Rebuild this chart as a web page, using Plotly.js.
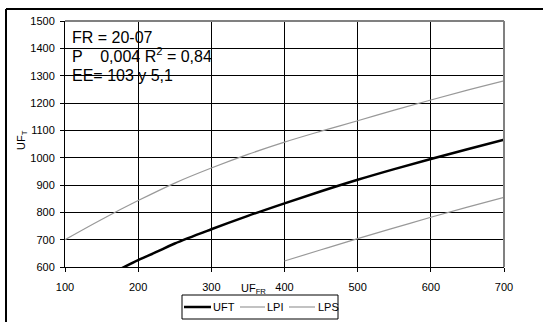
<!DOCTYPE html>
<html><head><meta charset="utf-8">
<script src="https://cdn.plot.ly/plotly-3.0.1.min.js"></script>
<style>
html,body{margin:0;padding:0;background:#fff;overflow:hidden;}
#chart{position:absolute;left:0;top:0;width:543px;height:322px;}
</style></head>
<body>
<div id="chart"></div>
<script>
// UFT (ajuste)
const uftX = [175, 200, 225, 250, 300, 350, 400, 450, 500, 550, 600, 650, 700];
const uftY = [592, 625, 655, 686, 738, 787, 833, 877, 919, 958, 995, 1031, 1066];
// LPS (límite superior)
const lpsX = [100, 150, 200, 250, 300, 350, 400, 450, 500, 550, 600, 650, 700];
const lpsY = [700, 774, 843, 907, 962, 1012, 1057, 1097, 1135, 1174, 1211, 1247, 1281];
// LPI (límite inferior)
const lpiX = [400, 450, 500, 550, 600, 650, 700];
const lpiY = [622, 663, 704, 743, 782, 819, 855];

const seriesNames = ['UFT', 'LPI', 'LPS'];
const seriesColors = ['#000', '#999', '#999'];
const seriesWidths = [2.5, 1.2, 1.2];

const xTicks = [100, 200, 300, 400, 500, 600, 700];
const yTicks = [600, 700, 800, 900, 1000, 1100, 1200, 1300, 1400, 1500];

const textLines = ['FR = 20-07', 'P    0,004 R<sup>2</sup> = 0,84', 'EE= 103 y 5,1'];

const W = 543, H = 322, ML = 65, MR = 39, MT = 21, MB = 55;
const PW = W - ML - MR, PH = H - MT - MB;
const px2x = p => (p - ML) / PW;
const py2y = p => (H - MB - p) / PH;

const xs = [uftX, lpiX, lpsX], ys = [uftY, lpiY, lpsY];
const traces = seriesNames.map((n, i) => ({
  x: xs[i], y: ys[i], name: n, mode: 'lines', showlegend: false,
  line: {color: seriesColors[i], width: seriesWidths[i], shape: 'spline'}
}));

const shapes = [
  // plot area border (right & top, grey)
  {type: 'line', xref: 'paper', yref: 'paper', x0: 1, x1: 1, y0: 0, y1: 1, line: {color: '#808080', width: 2}},
  {type: 'line', xref: 'paper', yref: 'paper', x0: 0, x1: 1, y0: 1, y1: 1, line: {color: '#808080', width: 2}},
  // outer chart frame
  {type: 'line', xref: 'paper', yref: 'paper', x0: px2x(6), x1: px2x(560), y0: py2y(9), y1: py2y(9), line: {color: '#000', width: 2}},
  {type: 'line', xref: 'paper', yref: 'paper', x0: px2x(6), x1: px2x(6), y0: py2y(9), y1: py2y(340), line: {color: '#000', width: 2}},
  // legend box
  {type: 'rect', xref: 'paper', yref: 'paper', x0: px2x(182), x1: px2x(338), y0: py2y(295), y1: py2y(319),
   line: {color: '#000', width: 1}, fillcolor: '#fff'}
];
const annotations = [];
// legend entries
const legLineX = [[184, 211], [240, 265], [289, 315]];
const legTextX = [213, 267, 318];
seriesNames.forEach((n, i) => {
  shapes.push({type: 'line', xref: 'paper', yref: 'paper', x0: px2x(legLineX[i][0]), x1: px2x(legLineX[i][1]),
    y0: py2y(307), y1: py2y(307), line: {color: seriesColors[i], width: seriesWidths[i]}});
  annotations.push({xref: 'paper', yref: 'paper', x: px2x(legTextX[i]), y: py2y(307), xanchor: 'left', yanchor: 'middle',
    showarrow: false, text: n, font: {size: 11}, xshift: -2});
});
// text box lines
const textY = [37, 55, 75];
textLines.forEach((t, i) => {
  annotations.push({xref: 'paper', yref: 'paper', x: px2x(70), y: py2y(textY[i]), xanchor: 'left', yanchor: 'middle',
    showarrow: false, align: 'left', font: {size: 16}, text: t});
});
annotations.push({xref: 'paper', yref: 'paper', x: px2x(22), y: py2y(140), xanchor: 'center', yanchor: 'middle', showarrow: false,
  textangle: -90, font: {size: 11}, text: 'UF<sub>T</sub>'});
annotations.push({xref: 'paper', yref: 'paper', x: px2x(253), y: py2y(289), xanchor: 'center', yanchor: 'middle', showarrow: false,
  font: {size: 11}, text: 'UF<sub>FR</sub>'});

const layout = {
  width: W, height: H,
  margin: {l: ML, r: MR, t: MT, b: MB},
  paper_bgcolor: '#fff', plot_bgcolor: '#fff',
  font: {family: 'Liberation Sans, Arial, sans-serif', size: 11, color: '#000'},
  showlegend: false,
  xaxis: {range: [100, 700], tickvals: xTicks, ticks: 'outside', ticklen: 4, tickcolor: '#000', ticklabelstandoff: 6,
          showgrid: true, gridcolor: '#000', gridwidth: 1, zeroline: false,
          showline: true, linecolor: '#000', linewidth: 1, mirror: false, fixedrange: true},
  yaxis: {range: [600, 1500], tickvals: yTicks, ticks: 'outside', ticklen: 4, tickcolor: '#000', ticklabelstandoff: 3,
          showgrid: true, gridcolor: '#000', gridwidth: 1, zeroline: false,
          showline: true, linecolor: '#000', linewidth: 1, mirror: false, fixedrange: true},
  shapes: shapes,
  annotations: annotations
};

Plotly.newPlot('chart', traces, layout, {displayModeBar: false, staticPlot: true});
</script>
</body></html>
